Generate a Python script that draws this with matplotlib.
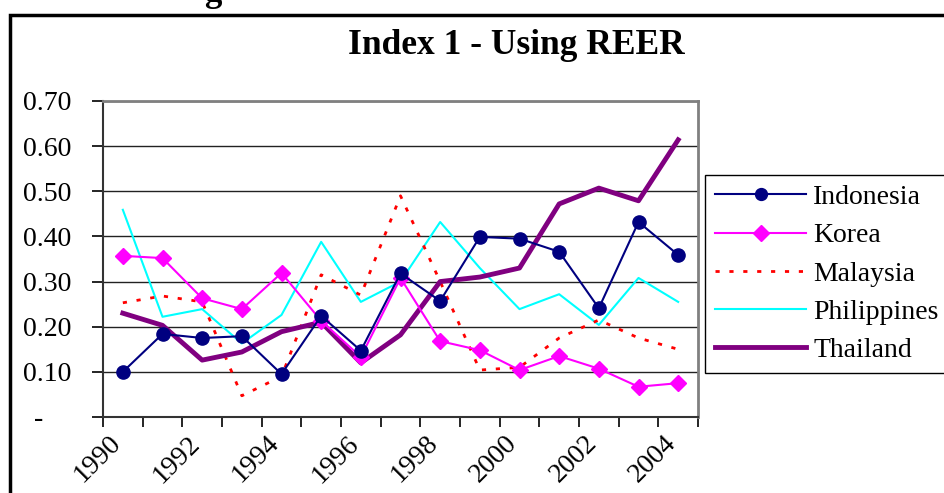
import numpy as np
import matplotlib
matplotlib.use("Agg")
import matplotlib.pyplot as plt
import matplotlib.transforms as mtransforms
from matplotlib.patches import Rectangle

# data
years = list(range(1990, 2005))
indonesia = [0.100, 0.184, 0.175, 0.179, 0.095, 0.224, 0.147, 0.318, 0.257, 0.399, 0.395, 0.366, 0.241, 0.432, 0.359]
korea = [0.357, 0.352, 0.263, 0.239, 0.319, 0.213, 0.133, 0.308, 0.168, 0.148, 0.104, 0.135, 0.107, 0.067, 0.075]
malaysia = [0.253, 0.268, 0.255, 0.047, 0.090, 0.315, 0.270, 0.490, 0.300, 0.104, 0.110, 0.175, 0.215, 0.175, 0.150]
philippines = [0.459, 0.222, 0.239, 0.163, 0.226, 0.388, 0.255, 0.300, 0.432, 0.330, 0.239, 0.272, 0.204, 0.308, 0.255]
thailand = [0.230, 0.203, 0.126, 0.144, 0.189, 0.210, 0.120, 0.182, 0.300, 0.310, 0.330, 0.472, 0.507, 0.479, 0.614]
yticks = [0.0, 0.1, 0.2, 0.3, 0.4, 0.5, 0.6, 0.7]

plt.rcParams['font.family'] = ['Liberation Serif', 'DejaVu Serif']

fig = plt.figure(figsize=(9.44, 4.93), dpi=100)
ax = fig.add_axes([103/944, 1-417/493, 595/944, 316/493])

x = np.arange(len(years)) + 0.5
ax.plot(x, indonesia, color='#000080', lw=1.5, marker='o', ms=9.5, label='Indonesia', zorder=5)
ax.plot(x, korea, color='#FF00FF', lw=1.5, marker='D', ms=8.5, label='Korea', zorder=4)
ax.plot(x, malaysia, color='#FF0000', lw=2, linestyle=(0, (1.5, 3.5)), label='Malaysia', zorder=3)
ax.plot(x, philippines, color='#00FFFF', lw=1.5, label='Philippines', zorder=2)
ax.plot(x, thailand, color='#800080', lw=3.5, label='Thailand', zorder=3)

ax.set_xlim(0, len(years))
ax.set_ylim(0, 0.7)
ax.set_yticks(yticks)
ax.set_yticklabels(['-    '] + ['%.2f' % v for v in yticks[1:]], fontsize=20)
for v in yticks[1:]:
    ax.axhline(v, color='#222222', lw=1, zorder=1)

ax.set_xticks(np.arange(len(years) + 1))
xlabels = [str(y) if i % 2 == 0 else '' for i, y in enumerate(years)] + ['']
ax.set_xticklabels(xlabels, fontsize=20, rotation=45, ha='right', va='top', rotation_mode='anchor')
ax.tick_params(axis='x', length=7, width=1.2, direction='out', pad=3)
ax.tick_params(axis='y', length=8, width=1.2, direction='out', pad=15)
shift = mtransforms.ScaledTranslation(5/100, 0, fig.dpi_scale_trans)
for lab in ax.get_xticklabels():
    lab.set_transform(lab.get_transform() + shift)

ax.spines['left'].set_color('#333333')
ax.spines['bottom'].set_color('#333333')
ax.spines['left'].set_linewidth(1.5)
ax.spines['bottom'].set_linewidth(1.5)
ax.spines['top'].set_color('#808080')
ax.spines['right'].set_color('#808080')
ax.spines['top'].set_linewidth(2)
ax.spines['right'].set_linewidth(2)

fig.text(516/944, 1-46/493, 'Index 1 - Using REER', fontsize=25.5, fontweight='bold', ha='center', va='center')
fig.text(213/944, 1-1/493, 'g', fontsize=25, fontweight='bold', ha='center', va='baseline')

# chart outer border (partly outside the picture)
fig.patches.append(Rectangle((10/944, -0.1), 1.2, 1.1 - 15/493, transform=fig.transFigure,
                             fill=False, edgecolor='black', lw=2.5))

leg = ax.legend(loc='upper left', bbox_to_anchor=(705/944, 1-175/493), bbox_transform=fig.transFigure,
                fontsize=20, frameon=True, fancybox=False, edgecolor='black', framealpha=1,
                handlelength=3.3, handletextpad=0.25, labelspacing=0.46, borderpad=0.35,
                borderaxespad=0, markerscale=0.9)
leg.get_frame().set_linewidth(1)

plt.savefig('out.png', dpi=100)
